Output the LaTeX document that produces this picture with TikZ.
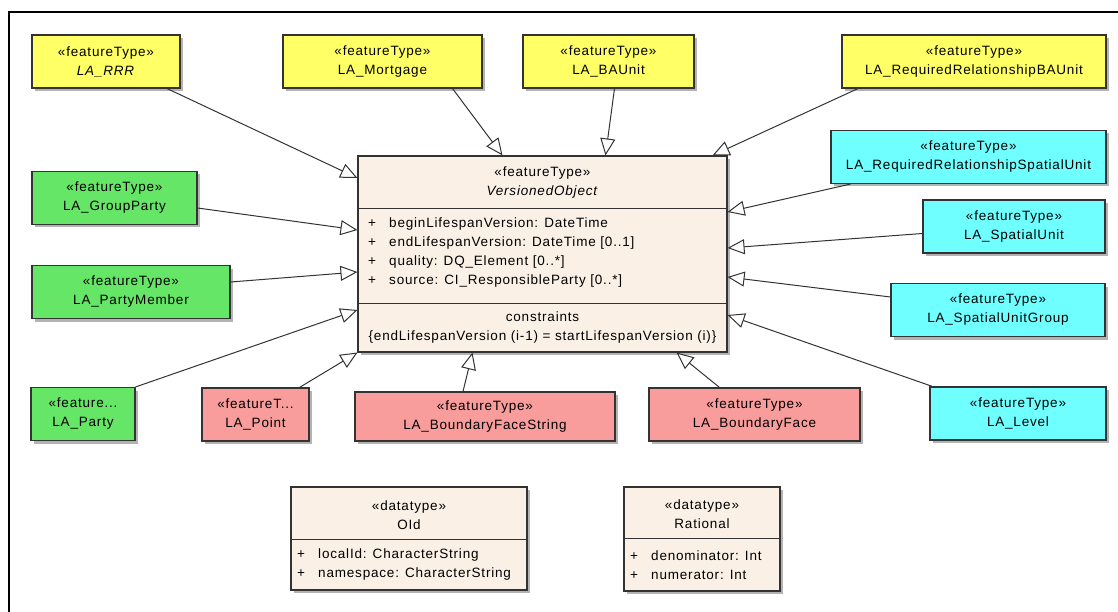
\documentclass[tikz,border=0pt]{standalone}
\usepackage{fontspec}
\setmainfont{Liberation Sans}[LetterSpace=6]
\usepackage{xcolor}
\usetikzlibrary{arrows.meta, shadows}

\definecolor{ftyellow}{HTML}{FFFF66}
\definecolor{ftgreen}{HTML}{66E666}
\definecolor{ftred}{HTML}{F99C9C}
\definecolor{ftcyan}{HTML}{70FFFF}
\definecolor{clsbeige}{HTML}{FAF0E6}
\definecolor{umlline}{HTML}{333333}

\newcommand{\attr}[1]{\makebox[21pt][l]{+}#1}

\begin{document}
\begin{tikzpicture}[
      x=1pt, y=-1pt,
      font=\fontsize{13.5}{19}\selectfont,
      cls/.style={draw=umlline, line width=1.1pt, align=center, inner sep=2pt,
                  drop shadow={shadow xshift=3pt, shadow yshift=-3pt, fill=black!50, opacity=0.6}},
      ft/.style={cls, minimum height=53pt},
      txt/.style={inner sep=0pt, align=center},
      sep/.style={draw=umlline, line width=1pt},
      gen/.style={draw=umlline, line width=1pt, -{Triangle[length=17pt, width=15pt, fill=white]}}
    ]
    \useasboundingbox (0,0) rectangle (1118,612);
    \draw[line width=1.5pt] (9,612) -- (9,12) -- (1118,12);

    \node[cls, fill=clsbeige, minimum width=369pt, minimum height=196pt] (vo) at (542.5,254) {};
    \node[txt] (vohead) at (542.5,183) {«featureType»\\\textit{VersionedObject}};
    \draw[sep] ([yshift=-53pt]vo.north west) -- ([yshift=-53pt]vo.north east);
    \node[txt, anchor=west, align=left] (voattr) at (368,253)
      {\attr{beginLifespanVersion: DateTime}\\\attr{endLifespanVersion: DateTime [0..1]}\\
       \attr{quality: DQ\_Element [0..*]}\\\attr{source: CI\_ResponsibleParty [0..*]}};
    \draw[sep] ([yshift=49pt]vo.south west) -- ([yshift=49pt]vo.south east);
    \node[txt] (vocons) at (542.5,328) {constraints\\\{endLifespanVersion (i-1) = startLifespanVersion (i)\}};

    \node[ft, fill=ftyellow, minimum width=148pt] (rrr) at (106,61.5) {«featureType»\\\textit{LA\_RRR}};
    \node[ft, fill=ftyellow, minimum width=199pt] (mortgage) at (382.5,61.5) {«featureType»\\LA\_Mortgage};
    \node[ft, fill=ftyellow, minimum width=171pt] (baunit) at (608.5,61.5) {«featureType»\\LA\_BAUnit};
    \node[ft, fill=ftyellow, minimum width=264pt] (reqbau) at (974,61.5) {«featureType»\\LA\_RequiredRelationshipBAUnit};
    \node[ft, fill=ftcyan, minimum width=275pt] (reqsu) at (968.5,157) {«featureType»\\LA\_RequiredRelationshipSpatialUnit};
    \node[ft, fill=ftcyan, minimum width=182pt] (su) at (1014,226.5) {«featureType»\\LA\_SpatialUnit};
    \node[ft, fill=ftcyan, minimum width=214pt] (sug) at (998,310) {«featureType»\\LA\_SpatialUnitGroup};
    \node[ft, fill=ftcyan, minimum width=176pt] (level) at (1018,413.5) {«featureType»\\LA\_Level};
    \node[ft, fill=ftgreen, minimum width=165pt] (groupparty) at (114.5,198) {«featureType»\\LA\_GroupParty};
    \node[ft, fill=ftgreen, minimum width=198pt] (partymember) at (131,292) {«featureType»\\LA\_PartyMember};
    \node[ft, fill=ftgreen, minimum width=104pt] (party) at (83,414) {«feature...\\LA\_Party};
    \node[ft, fill=ftred, minimum width=107pt] (point) at (255.5,414.5) {«featureT...\\LA\_Point};
    \node[ft, fill=ftred, minimum width=260pt, minimum height=49pt] (bfs) at (485,416.5) {«featureType»\\LA\_BoundaryFaceString};
    \node[ft, fill=ftred, minimum width=211pt] (bf) at (754.5,414.5) {«featureType»\\LA\_BoundaryFace};

    \draw[gen] ([xshift=61pt]rrr.south) -- ([yshift=76pt]vo.west);
    \draw[gen] ([xshift=70pt]mortgage.south) -- ([xshift=-40pt]vo.north);
    \draw[gen] ([xshift=6pt]baunit.south) -- ([xshift=63pt]vo.north);
    \draw[gen] ([xshift=-116pt]reqbau.south) -- ([xshift=170pt]vo.north);
    \draw[gen] ([xshift=-118pt]reqsu.south) -- ([yshift=42pt]vo.east);
    \draw[gen] ([yshift=-7pt]su.west) -- ([yshift=6pt]vo.east);
    \draw[gen] ([yshift=13pt]sug.west) -- ([yshift=-23pt]vo.east);
    \draw[gen] ([xshift=3pt]level.north west) -- ([yshift=-61pt]vo.east);
    \draw[gen] ([yshift=-10pt]groupparty.east) -- ([yshift=24pt]vo.west);
    \draw[gen] ([yshift=10pt]partymember.east) -- ([yshift=-18pt]vo.west);
    \draw[gen] (party.north east) -- ([yshift=-56pt]vo.west);
    \draw[gen] ([xshift=44pt]point.north) -- (vo.south west);
    \draw[gen] ([xshift=-22pt]bfs.north) -- ([xshift=-70pt]vo.south);
    \draw[gen] ([xshift=-35pt]bf.north) -- ([xshift=134pt]vo.south);

    \node[cls, fill=clsbeige, minimum width=236pt, minimum height=103pt] (oid) at (409,538.5) {};
    \node[txt] (oidhead) at (409,515) {«datatype»\\OId};
    \draw[sep] ([yshift=-53pt]oid.north west) -- ([yshift=-53pt]oid.north east);
    \node[txt, anchor=west, align=left] (oidattr) at (297,565)
      {\attr{localId: CharacterString}\\\attr{namespace: CharacterString}};

    \node[cls, fill=clsbeige, minimum width=156pt, minimum height=104pt] (rational) at (702,539) {};
    \node[txt] (rationalhead) at (702,514) {«datatype»\\Rational};
    \draw[sep] ([yshift=-52pt]rational.north west) -- ([yshift=-52pt]rational.north east);
    \node[txt, anchor=west, align=left] (rationalattr) at (630,565)
      {\attr{denominator: Int}\\\attr{numerator: Int}};
  \end{tikzpicture}
\end{document}
